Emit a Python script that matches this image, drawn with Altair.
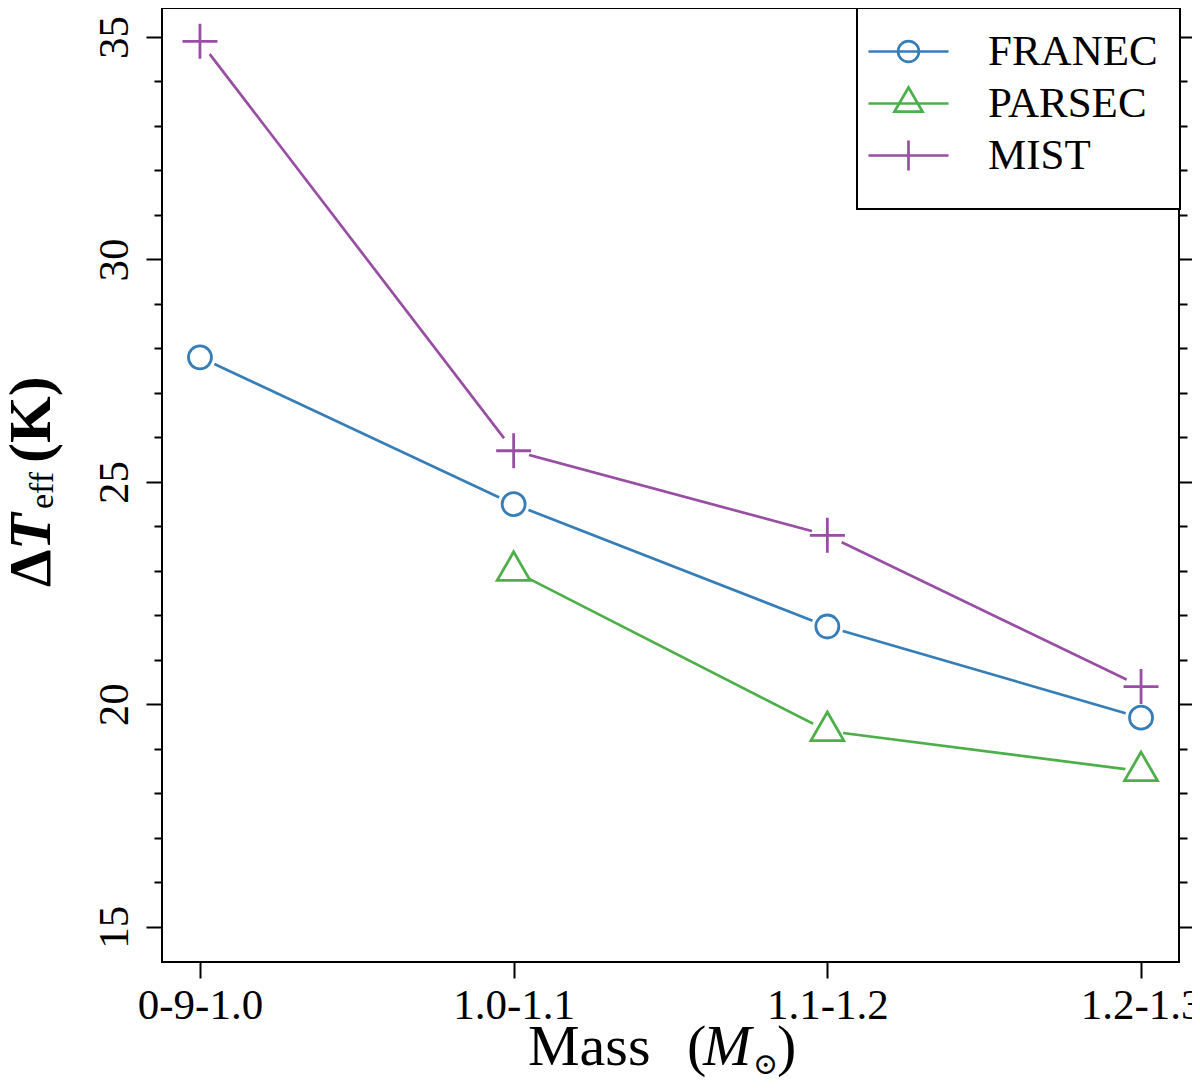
import altair as alt
import pandas as pd

# values
masses = ["0-9-1.0", "1.0-1.1", "1.1-1.2", "1.2-1.3"]
models = ["FRANEC", "PARSEC", "MIST"]
colors = ["#377eb8", "#4daf4a", "#984ea3"]
franec = [27.8, 24.5, 21.75, 19.7]
parsec = [None, 23.0, 19.4, 18.5]
mist = [34.9, 25.7, 23.8, 20.4]

SERIF = "Liberation Serif"

rows = []
for m, vals in zip(models, [franec, parsec, mist]):
    for mass, v in zip(masses, vals):
        if v is not None:
            rows.append({"model": m, "mass": mass, "dteff": v})
df = pd.DataFrame(rows)

# marker shapes (R style open circle / triangle / plus)
marker_shape = {
    "FRANEC": ("circle", 529),
    "PARSEC": ("M0,-1L0.866,0.5L-0.866,0.5Z", 1444),
    "MIST": ("M-1,0L1,0M0,-1L0,1", 1225),
}
# legend symbols: line segment with the marker on it
legend_paths = [
    "M-3.08,0L3.08,0M0.8,0A0.8,0.8,0,1,1,-0.8,0A0.8,0.8,0,1,1,0.8,0",
    "M-3.08,0L3.08,0M0,-1.23L1.08,0.62L-1.08,0.62Z",
    "M-3.08,0L3.08,0M0,-1.15L0,1.15",
]

tick_len = {"condition": {"test": "datum.value % 5 === 0", "value": 16}, "value": 8}
y_ticks = list(range(15, 36))

x_enc = alt.X(
    "mass:N",
    scale=alt.Scale(type="point", domain=masses, padding=0.121),
    axis=alt.Axis(title=None, tickSize=16, labelFontSize=43, labelPadding=6,
                  labelAngle=0, domain=False, grid=False),
)
y_scale = alt.Scale(domain=[14.21, 35.65], nice=False, zero=False)
y_left = alt.Y(
    "dteff:Q", scale=y_scale,
    axis=alt.Axis(title=None, orient="left", values=y_ticks, tickSize=tick_len,
                  labelAngle=270, labelAlign="center", labelBaseline="bottom",
                  labelPadding=10, labelFontSize=43, domain=False, grid=False,
                  labelExpr="datum.value % 5 === 0 ? datum.label : ''"),
)
y_right = alt.Y(
    "dteff:Q", scale=y_scale,
    axis=alt.Axis(title=None, orient="right", values=y_ticks, tickSize=tick_len,
                  labels=False, domain=False, grid=False),
)
y_plain = alt.Y("dteff:Q", scale=y_scale, axis=None)

base = alt.Chart(df)

lines = []
markers = []
for i, (m, c) in enumerate(zip(models, colors)):
    sub = base.transform_filter(alt.datum.model == m)
    lines.append(
        sub.mark_line(color=c, strokeWidth=2.7).encode(
            x=x_enc, y=y_left if i == 0 else y_plain
        )
    )
    shp, sz = marker_shape[m]
    markers.append(
        sub.mark_point(shape=shp, size=sz, filled=False, color=c, strokeWidth=2.8, opacity=1)
        .encode(x=x_enc, y=y_plain)
    )

# white discs give the gaps around points, like R's type="b"
halo = base.mark_point(shape="circle", filled=True, fill="white", size=1024,
                       opacity=1, strokeWidth=0).encode(x=x_enc, y=y_right)

leg = alt.Legend(title=None, orient="none", legendX=725, legendY=22,
                 labelFont=SERIF, labelFontSize=43, labelColor="black", labelLimit=400,
                 labelOffset=58, symbolSize=676, symbolStrokeWidth=2.7,
                 rowPadding=8, padding=0)
legend_src = base.mark_point(filled=False, opacity=0).encode(
    x=x_enc, y=y_plain,
    color=alt.Color("model:N", scale=alt.Scale(domain=models, range=colors), legend=leg),
    shape=alt.Shape("model:N", scale=alt.Scale(domain=models, range=legend_paths), legend=leg),
)

one = pd.DataFrame({"k": [0]})

legend_box = alt.Chart(one).mark_rect(fill="white", stroke="black", strokeWidth=2).encode(
    x=alt.value(695), x2=alt.value(1018), y=alt.value(0), y2=alt.value(201)
)


def piece(text, x, y, size, angle=0, weight="normal", style="normal", font=SERIF):
    return alt.Chart(one).mark_text(
        text=text, align="left", baseline="alphabetic", angle=angle, fontSize=size,
        fontWeight=weight, fontStyle=style, font=font, color="black",
    ).encode(x=alt.value(x), y=alt.value(y))


x_title = [
    piece("Mass", 366, 1057, 58),
    piece("(", 525, 1057, 58),
    piece("M", 541, 1057, 58, style="italic"),
    piece("\u2299", 591, 1066, 30, font="DejaVu Serif"),
    piece(")", 615, 1057, 58),
]
y_title = [
    piece("\u0394", -112, 579, 60, angle=270, weight="bold"),
    piece("T", -112, 542, 60, angle=270, weight="bold", style="italic"),
    piece("eff", -109, 501, 34, angle=270),
    piece("(K)", -112, 455, 60, angle=270, weight="bold"),
]

chart = alt.layer(
    *lines, halo, *markers, legend_src, legend_box, *x_title, *y_title
).properties(
    width=1017, height=954,
    autosize=alt.AutoSizeParams(type="none"),
    padding={"left": 154, "top": 0, "right": 13, "bottom": 116},
).configure_view(
    stroke="black", strokeWidth=2
).configure_axis(
    tickColor="black", tickWidth=2, labelColor="black", labelFont=SERIF
)

chart.save("out.html", embed_options={"renderer": "svg", "actions": False})
